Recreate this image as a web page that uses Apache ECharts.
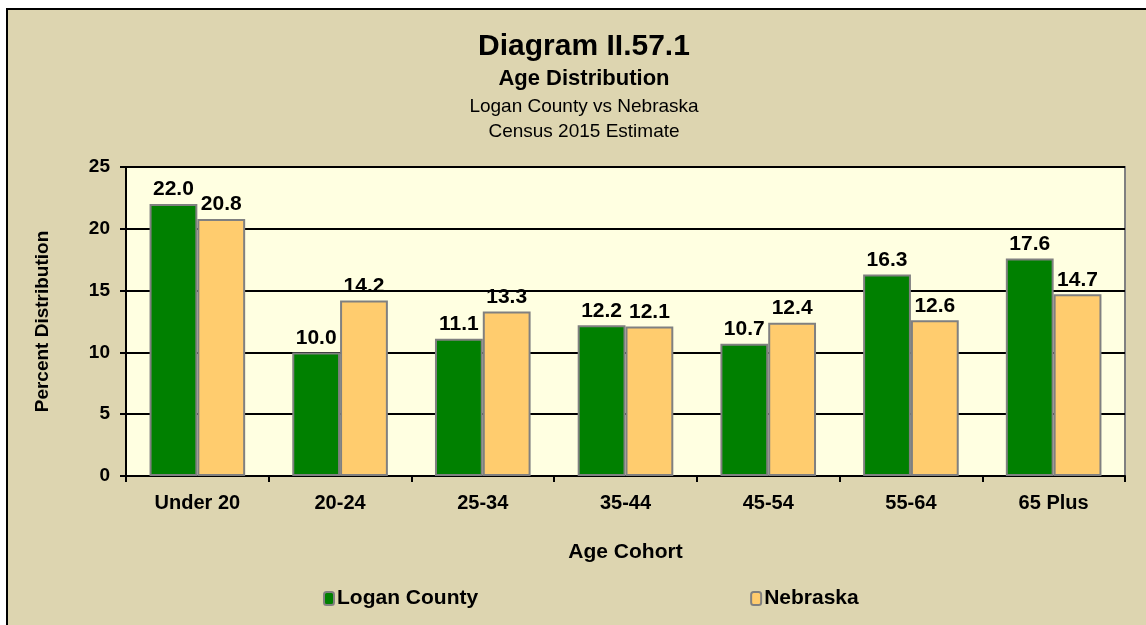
<!DOCTYPE html>
<html>
<head>
<meta charset="utf-8">
<script src="https://cdn.jsdelivr.net/npm/echarts@6/dist/echarts.min.js"></script>
<style>
  html, body { margin: 0; padding: 0; background: #ffffff; }
  #chart { width: 1146px; height: 625px; }
</style>
</head>
<body>
<div id="chart"></div>
<script>
// age cohorts and values (percent)
var cohorts = ['Under 20', '20-24', '25-34', '35-44', '45-54', '55-64', '65 Plus'];
var logan = [22.0, 10.0, 11.1, 12.2, 10.7, 16.3, 17.6];
var nebraska = [20.8, 14.2, 13.3, 12.1, 12.4, 12.6, 14.7];
var yTicks = [0, 5, 10, 15, 20, 25];

var font = '"Liberation Sans", Arial, sans-serif';
var chart = echarts.init(document.getElementById('chart'));

var labelStyle = {
    show: true,
    position: 'top',
    distance: 4,
    color: '#000',
    fontFamily: font,
    fontWeight: 'bold',
    fontSize: 21,
    formatter: function (p) { return p.value.toFixed(1); }
};

var option = {
    animation: false,
    backgroundColor: '#ffffff',
    graphic: [{
        type: 'rect',
        z: -10,
        shape: { x: 7, y: 9, width: 1160, height: 640 },
        style: { fill: '#DDD5B0', stroke: '#000', lineWidth: 2 }
    }],
    title: [
        { text: 'Diagram II.57.1', left: 579, top: 27, textAlign: 'center',
          textStyle: { fontFamily: font, fontWeight: 'bold', fontSize: 30, color: '#000' } },
        { text: 'Age Distribution', left: 579, top: 63, textAlign: 'center',
          textStyle: { fontFamily: font, fontWeight: 'bold', fontSize: 22, color: '#000' } },
        { text: 'Logan County vs Nebraska', left: 579, top: 92, textAlign: 'center',
          textStyle: { fontFamily: font, fontWeight: 'normal', fontSize: 19, color: '#000' } },
        { text: 'Census 2015 Estimate', left: 579, top: 117, textAlign: 'center',
          textStyle: { fontFamily: font, fontWeight: 'normal', fontSize: 19, color: '#000' } }
    ],
    legend: {
        left: 318,
        top: 583,
        itemGap: 272,
        itemWidth: 10,
        itemHeight: 13,
        itemStyle: { borderColor: '#808080', borderWidth: 2 },
        textStyle: { fontFamily: font, fontWeight: 'bold', fontSize: 21, color: '#000', padding: [0, 0, 0, -2] },
        data: ['Logan County', 'Nebraska']
    },
    grid: {
        left: 126,
        top: 167,
        right: 21,
        bottom: 149,
        show: true,
        backgroundColor: '#FFFFE1',
        borderColor: '#808080',
        borderWidth: 2
    },
    xAxis: {
        type: 'category',
        data: cohorts,
        name: 'Age Cohort',
        nameLocation: 'middle',
        nameGap: 66,
        nameTextStyle: { fontFamily: font, fontWeight: 'bold', fontSize: 21, color: '#000' },
        axisLine: { lineStyle: { color: '#000', width: 2 } },
        axisTick: { show: true, alignWithLabel: false, length: 6, lineStyle: { color: '#000', width: 2 } },
        axisLabel: { fontFamily: font, fontWeight: 'bold', fontSize: 20, color: '#000', margin: 17 }
    },
    yAxis: {
        type: 'value',
        min: yTicks[0],
        max: yTicks[yTicks.length - 1],
        interval: yTicks[1] - yTicks[0],
        name: 'Percent Distribution',
        nameLocation: 'middle',
        nameGap: 74,
        nameTextStyle: { fontFamily: font, fontWeight: 'bold', fontSize: 19, color: '#000' },
        axisLine: { show: true, lineStyle: { color: '#000', width: 2 } },
        axisTick: { show: true, length: 6, lineStyle: { color: '#000', width: 2 } },
        axisLabel: { fontFamily: font, fontWeight: 'bold', fontSize: 19, color: '#000', margin: 16 },
        splitLine: { show: true, lineStyle: { color: '#000', width: 2 } }
    },
    series: [
        {
            name: 'Logan County',
            type: 'bar',
            data: logan,
            barGap: '0%',
            barCategoryGap: '33%',
            itemStyle: { color: '#008000', borderColor: '#808080', borderWidth: 2 },
            label: labelStyle
        },
        {
            name: 'Nebraska',
            type: 'bar',
            data: nebraska,
            itemStyle: { color: '#FFCC6E', borderColor: '#808080', borderWidth: 2 },
            label: labelStyle
        }
    ]
};
chart.setOption(option);
</script>
</body>
</html>
